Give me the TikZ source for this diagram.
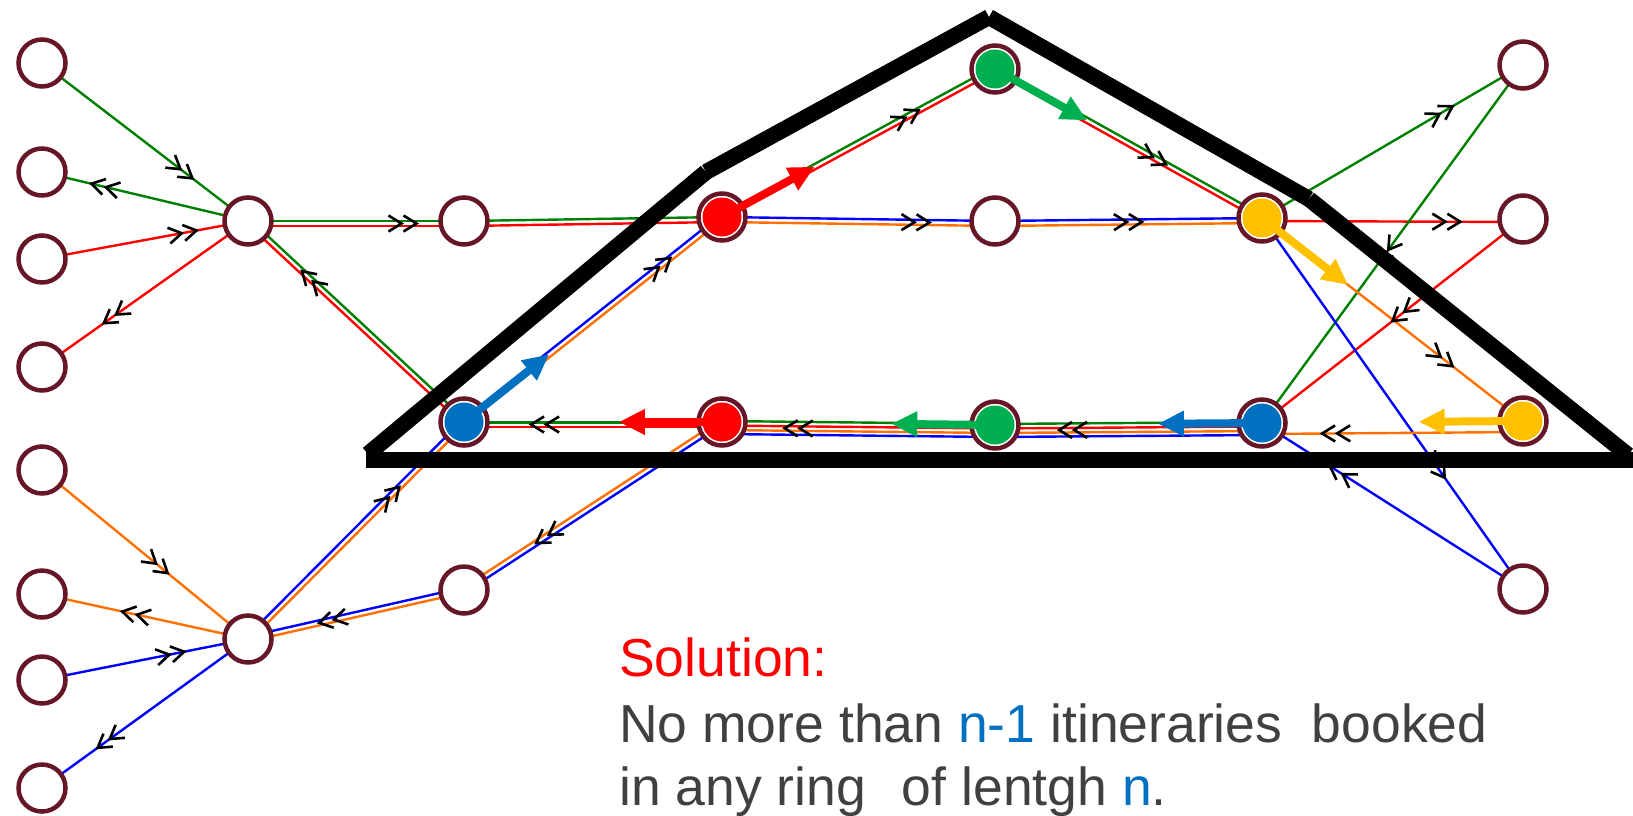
\documentclass[tikz,border=0pt]{standalone}
\usepackage{fontspec}
\setmainfont{Liberation Sans}
\usepackage{xcolor}
\usetikzlibrary{arrows.meta,calc,decorations.markings,backgrounds}

\definecolor{ringc}{RGB}{102,22,38}
\definecolor{lgreen}{RGB}{0,128,0}
\definecolor{lred}{RGB}{255,0,0}
\definecolor{lblue}{RGB}{0,0,255}
\definecolor{lorange}{RGB}{255,112,0}
\definecolor{fgreen}{RGB}{0,176,80}
\definecolor{fyellow}{RGB}{255,192,0}
\definecolor{fblue}{RGB}{0,112,192}
\definecolor{txtgray}{RGB}{64,64,64}

% leg between two stops, shifted sideways by #4 (pt, + = left of travel)
\newcommand{\rail}[4]{\draw[#1] ($(#2)!#4pt!90:(#3)$) -- ($(#3)!#4pt!-90:(#2)$);}
% double chevron on a leg at position #3, shifted by #4
\newcommand{\chev}[4]{\path[chevmark=#3] ($(#1)!#4pt!90:(#2)$) -- ($(#2)!#4pt!-90:(#1)$);}

\begin{document}
\begin{tikzpicture}[
  x=1pt, y=-1pt,
  stop/.style={circle, draw=ringc, line width=4.5pt, fill=white, minimum size=47pt, inner sep=0pt},
  hit/.style={stop, path picture={\fill[#1] (path picture bounding box.center) circle (19.5pt);}},
  leg/.style={line width=2.4pt},
  fat/.style={line width=8pt, -{Triangle[length=26pt,width=24pt]}},
  ring/.style={line width=16pt, black},
  chevmark/.style={postaction={decorate, decoration={markings, mark=at position #1 with
      {\draw[black, line width=2.6pt] (-13pt,8pt) -- (0pt,0pt) -- (-13pt,-8pt)
                                      (-28pt,8pt) -- (-15pt,0pt) -- (-28pt,-8pt);}}}},
  txt/.style={anchor=base west, inner sep=0pt, font=\fontsize{53.5}{64}\selectfont, text=txtgray}
]
\useasboundingbox (0,0) rectangle (1633,815);

% left feeders
\node[stop] (l1) at (42,63)  {};
\node[stop] (l2) at (42,172) {};
\node[stop] (l3) at (42,259) {};
\node[stop] (l4) at (42,367) {};
\node[stop] (l5) at (42,470) {};
\node[stop] (l6) at (42,594) {};
\node[stop] (l7) at (42,680) {};
\node[stop] (l8) at (42,788) {};

% hubs and plain stops
\node[stop] (h1) at (248,221) {};
\node[stop] (h2) at (248,639) {};
\node[stop] (m1) at (464,221) {};
\node[stop] (m2) at (464,590) {};
\node[stop] (w1) at (995,221) {};

% booked stops of the ring
\node[hit=fblue]   (b1) at (464,422)  {};
\node[hit=lred]    (r1) at (722,217)  {};
\node[hit=fgreen]  (g1) at (995,69)   {};
\node[hit=fyellow] (y1) at (1262,218) {};
\node[hit=lred]    (r2) at (722,422)  {};
\node[hit=fgreen]  (g2) at (995,425)  {};
\node[hit=fblue]   (b2) at (1262,423) {};
\node[hit=fyellow] (y2) at (1523,421) {};

% right feeders
\node[stop] (t1) at (1523,65)  {};
\node[stop] (t2) at (1523,219) {};
\node[stop] (t3) at (1523,589) {};

\begin{scope}[on background layer]
% green and red itineraries
\rail{leg,lgreen}{l1}{h1}{0}
\rail{leg,lgreen}{h1}{l2}{0}
\rail{leg,lred}{l3}{h1}{0}
\rail{leg,lred}{h1}{l4}{0}
\rail{leg,lgreen}{h1}{m1}{0}
\rail{leg,lred}{h1}{m1}{-5}
\rail{leg,lgreen}{m1}{r1}{0}
\rail{leg,lred}{m1}{r1}{-5}
\rail{leg,lgreen}{r1}{g1}{2.5}
\rail{leg,lred}{r1}{g1}{-2.5}
\rail{leg,lgreen}{g1}{y1}{2.5}
\rail{leg,lred}{g1}{y1}{-2.5}
\rail{leg,lgreen}{y1}{t1}{0}
\rail{leg,lred}{y1}{t2}{-3}
\rail{leg,lgreen}{t1}{b2}{0}
\rail{leg,lred}{t2}{b2}{0}
\rail{leg,lgreen}{r2}{b1}{0.5}
\rail{leg,lred}{r2}{b1}{5}
\rail{leg,lgreen}{b1}{h1}{-2.5}
\rail{leg,lred}{b1}{h1}{2.5}

% bottom bundle
\rail{leg,lgreen}{b2}{g2}{-1}
\rail{leg,lred}{b2}{g2}{3.5}
\rail{leg,lorange}{b2}{g2}{8}
\rail{leg,lblue}{b2}{g2}{12}
\rail{leg,lgreen}{g2}{r2}{-1}
\rail{leg,lred}{g2}{r2}{3.5}
\rail{leg,lorange}{g2}{r2}{8}
\rail{leg,lblue}{g2}{r2}{12}

% blue and orange itineraries
\rail{leg,lorange}{l5}{h2}{0}
\rail{leg,lorange}{h2}{l6}{0}
\rail{leg,lblue}{l7}{h2}{0}
\rail{leg,lblue}{h2}{l8}{0}
\rail{leg,lblue}{h2}{b1}{2.5}
\rail{leg,lorange}{h2}{b1}{-2.5}
\rail{leg,lblue}{b1}{r1}{2.5}
\rail{leg,lorange}{b1}{r1}{-2.5}
\rail{leg,lblue}{r1}{w1}{0}
\rail{leg,lorange}{r1}{w1}{-5}
\rail{leg,lblue}{w1}{y1}{0}
\rail{leg,lorange}{w1}{y1}{-5}
\rail{leg,lblue}{y1}{t3}{0}
\rail{leg,lorange}{y1}{y2}{0}
\rail{leg,lblue}{t3}{b2}{0}
\rail{leg,lorange}{y2}{b2}{11}
\rail{leg,lorange}{r2}{m2}{-2.5}
\rail{leg,lblue}{r2}{m2}{2.5}
\rail{leg,lorange}{m2}{h2}{2.5}
\rail{leg,lblue}{m2}{h2}{-2.5}

% direction marks
\chev{l1}{h1}{0.73}{0}
\chev{h1}{l2}{0.76}{0}
\chev{l3}{h1}{0.75}{0}
\chev{h1}{l4}{0.70}{0}
\chev{h1}{m1}{0.78}{-2.5}
\chev{b1}{h1}{0.75}{0}
\chev{r1}{g1}{0.72}{0}
\chev{g1}{y1}{0.64}{0}
\chev{r1}{w1}{0.76}{-2.5}
\chev{w1}{y1}{0.55}{-2.5}
\chev{y1}{t2}{0.76}{-3}
\chev{y1}{t1}{0.73}{0}
\chev{t1}{b2}{0.55}{0}
\chev{t2}{b2}{0.50}{0}
\chev{y1}{y2}{0.73}{0}
\chev{y1}{t3}{0.70}{0}
\chev{t3}{b2}{0.74}{0}
\chev{y2}{b2}{0.77}{11}
\chev{b2}{g2}{0.76}{5.5}
\chev{g2}{r2}{0.77}{5.5}
\chev{r2}{b1}{0.74}{2.5}
\chev{r2}{m2}{0.72}{0}
\chev{b1}{r1}{0.80}{0}
\chev{h2}{b1}{0.70}{0}
\chev{m2}{h2}{0.67}{0}
\chev{l5}{h2}{0.61}{0}
\chev{h2}{l6}{0.61}{0}
\chev{l7}{h2}{0.69}{0}
\chev{h2}{l8}{0.73}{0}
\end{scope}

% booked moves
\draw[fat, lred]    (r1.center) -- ($(r1)!0.34!(g1)$);
\draw[fat, fgreen]  (g1.center) -- ($(g1)!0.345!(y1)$);
\draw[fat, fyellow] (y1.center) -- ($(y1)!0.33!(y2)$);
\draw[fat, fyellow] (y2.center) -- ($(y2)!0.40!(b2)$);
\draw[fat, fblue]   (b2.center) -- ($(b2)!0.39!(g2)$);
\draw[fat, fgreen]  (g2.center) -- ($(g2)!0.38!(r2)$);
\draw[fat, lred]    (r2.center) -- ($(r2)!0.40!(b1)$);
\draw[fat, fblue]   (b1.center) -- ($(b1)!0.33!(r1)$);

% the ring outline
\coordinate (k1) at (368,454);
\coordinate (k2) at (706,172);
\coordinate (k3) at (989,17);
\coordinate (k4) at (1309,199);
\coordinate (k5) at (1628,455);
\coordinate (k6) at (366,460);
\coordinate (k7) at (1640,460);
\draw[ring] (k1) -- (k2);
\draw[ring] (k2) -- (k3);
\draw[ring] (k3) -- (k4);
\draw[ring] (k4) -- (k5);
\draw[ring] (k6) -- (k7);

% caption
\node[txt, text=lred] (sol)  at (619,676) {Solution:};
\node[txt]            (ln1)  at (619,742) {No more than \textcolor{fblue}{n-1} itineraries\ \ booked};
\node[txt]            (ln2)  at (619,805) {in any ring\hspace{36pt}of lentgh \textcolor{fblue}{n}.};

\end{tikzpicture}
\end{document}
